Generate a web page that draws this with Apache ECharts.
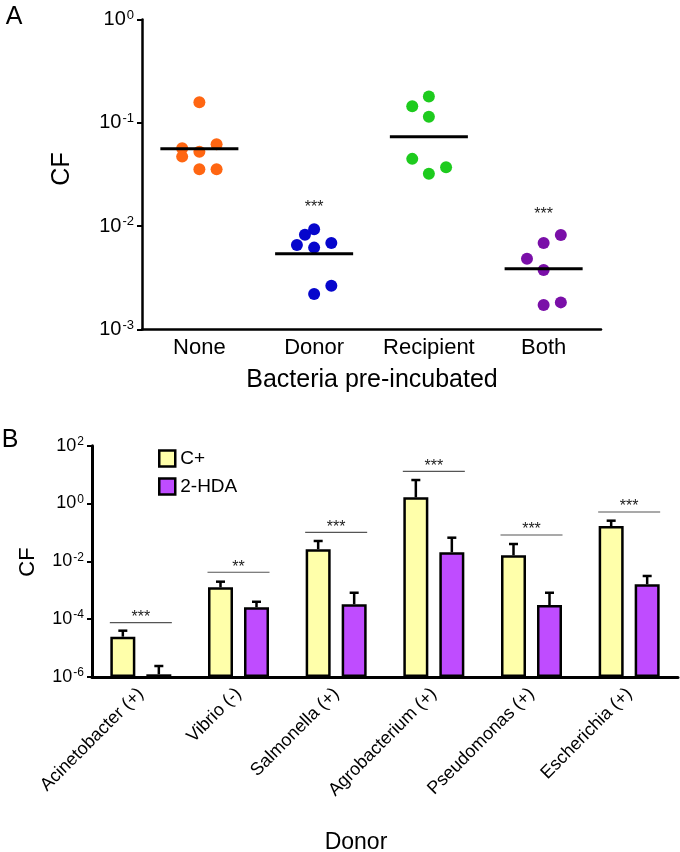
<!DOCTYPE html>
<html><head><meta charset="utf-8">
<script src="https://cdn.jsdelivr.net/npm/echarts@6/dist/echarts.min.js"></script>
<style>html,body{margin:0;padding:0;background:#fff}#c{width:680px;height:852px}</style>
</head><body><div id="c"></div>
<script>
// ---------- Panel A data ----------
const groupsA = ['None', 'Donor', 'Recipient', 'Both'];
const noneVals = [0.158, 0.0568, 0.0526, 0.0621, 0.0471, 0.0356, 0.0356];
const noneJitter = [0, -0.15, 0, 0.15, -0.15, 0, 0.15];
const donorVals = [0.00933, 0.00828, 0.00658, 0.00620, 0.00687, 0.00265, 0.00221];
const donorJitter = [0, -0.08, -0.15, 0, 0.15, 0.15, 0];
const recipientVals = [0.1795, 0.145, 0.1148, 0.0448, 0.0372, 0.0322];
const recipientJitter = [0, -0.145, 0, -0.145, 0.15, 0];
const bothVals = [0.00822, 0.00687, 0.00484, 0.00377, 0.00183, 0.00173];
const bothJitter = [0.15, 0, -0.145, 0, 0.15, 0];
const meansA = [0.0562, 0.00542, 0.0734, 0.00388];
const starsA = [[1, 0.0150, '***'], [3, 0.0128, '***']];

// ---------- Panel B data ----------
const donorsB = ['Acinetobacter (+)', 'Vibrio (-)', 'Salmonella (+)', 'Agrobacterium (+)', 'Pseudomonas (+)', 'Escherichia (+)'];
const cPlus = [2.48e-5, 1.27e-3, 0.0261, 1.64, 0.0162, 0.167];
const cPlusUpper = [4.0e-5, 1.98e-3, 0.0506, 6.5, 0.0398, 0.255];
const hda = [1.24e-6, 2.58e-4, 3.27e-4, 0.0206, 3.09e-4, 1.61e-3];
const hdaUpper = [2.4e-6, 4.0e-4, 8.2e-4, 0.0658, 8.2e-4, 3.12e-3];
const sigLevel = [7.55e-5, 4.19e-3, 0.101, 13.0, 0.0817, 0.509];
const sigLabels = ['***', '**', '***', '***', '***', '***'];

// ---------- styles ----------
const FONT = "'Liberation Sans', Arial, Helvetica, sans-serif";
const colA = ['#FF6612', '#0606CC', '#1ECB1E', '#7A0FA8'];
const BAR_W = 25, BAR_GAP = 11;

const expFmt = v => '{b|10}{s|' + Math.round(Math.log10(v)) + '}';

function scatterSeries(vals, jit, gi) {
  return {
    type: 'scatter', xAxisIndex: 1, yAxisIndex: 0,
    symbolSize: 12, itemStyle: { color: colA[gi], opacity: 1 },
    data: vals.map((v, i) => [gi + jit[i], v]), z: 3
  };
}

const chart = echarts.init(document.getElementById('c'), null, { renderer: 'canvas' });
const option = {
  animation: false,
  backgroundColor: '#fff',
  textStyle: { fontFamily: FONT },
  grid: [
    { left: 142, right: 79, top: 19.5, bottom: 522.5, containLabel: false, outerBoundsMode: 'none' },
    { left: 92, right: 2, top: 445.7, bottom: 175, containLabel: false, outerBoundsMode: 'none' }
  ],
  legend: {
    data: ['C+', '2-HDA'], orient: 'vertical', left: 158, top: 449,
    itemWidth: 16, itemHeight: 16, itemGap: 9, padding: 0, icon: 'rect',
    itemStyle: { borderColor: '#000', borderWidth: 2.5 },
    textStyle: { fontSize: 19, color: '#000', fontFamily: FONT }
  },
  xAxis: [
    { type: 'category', gridIndex: 0, data: groupsA,
      axisLine: { onZero: false, lineStyle: { color: '#000', width: 2.5 } },
      axisTick: { alignWithLabel: true, length: 5, interval: 0, lineStyle: { color: '#000', width: 2 } },
      axisLabel: { fontSize: 22, color: '#000', margin: 7, interval: 0, fontFamily: FONT },
      splitLine: { show: false } },
    { type: 'value', gridIndex: 0, min: -0.5, max: 3.5, show: false },
    { type: 'category', gridIndex: 1, data: donorsB,
      axisLine: { onZero: false, lineStyle: { color: '#000', width: 3 } },
      axisTick: { alignWithLabel: true, length: 5, interval: 0, lineStyle: { color: '#000', width: 2 } },
      axisLabel: { fontSize: 18, color: '#000', rotate: 45, margin: 14, interval: 0, fontFamily: FONT },
      splitLine: { show: false } }
  ],
  yAxis: [
    { type: 'log', gridIndex: 0, logBase: 10, min: 1e-3, max: 1, interval: 1,
      axisLine: { show: true, onZero: false, lineStyle: { color: '#000', width: 2.5 } },
      axisTick: { show: true, length: 5, lineStyle: { color: '#000', width: 2 } },
      splitLine: { show: false }, minorTick: { show: false },
      axisLabel: { margin: 8, formatter: expFmt, color: '#000',
        rich: { b: { fontSize: 20, fontFamily: FONT, color: '#000' },
                s: { fontSize: 13, fontFamily: FONT, color: '#000', padding: [0, 0, 9, 1] } } } },
    { type: 'log', gridIndex: 1, logBase: 10, min: 1e-6, max: 100, interval: 2, startValue: 1e-6,
      axisLine: { show: true, onZero: false, lineStyle: { color: '#000', width: 3 } },
      axisTick: { show: true, length: 5, lineStyle: { color: '#000', width: 2 } },
      splitLine: { show: false }, minorTick: { show: false },
      axisLabel: { margin: 8, formatter: expFmt, color: '#000',
        rich: { b: { fontSize: 18, fontFamily: FONT, color: '#000' },
                s: { fontSize: 12, fontFamily: FONT, color: '#000', padding: [0, 0, 8, 1] } } } }
  ],
  series: [
    scatterSeries(noneVals, noneJitter, 0),
    scatterSeries(donorVals, donorJitter, 1),
    scatterSeries(recipientVals, recipientJitter, 2),
    scatterSeries(bothVals, bothJitter, 3),
    { type: 'custom', xAxisIndex: 1, yAxisIndex: 0, z: 4,
      data: meansA.map((v, i) => [i, v]),
      renderItem(params, api) {
        const p = api.coord([api.value(0), api.value(1)]);
        const hw = api.size([1, 1])[0] * 0.34;
        return { type: 'line', shape: { x1: p[0] - hw, y1: p[1], x2: p[0] + hw, y2: p[1] },
                 style: { stroke: '#000', lineWidth: 3 } };
      } },
    { type: 'custom', xAxisIndex: 1, yAxisIndex: 0, z: 4,
      data: starsA.map(s => [s[0], s[1]]),
      renderItem(params, api) {
        const p = api.coord([api.value(0), api.value(1)]);
        return { type: 'text', x: p[0], y: p[1],
                 style: { text: starsA[params.dataIndex][2], align: 'center', verticalAlign: 'middle',
                          font: '16px ' + FONT, fill: '#222' } };
      } },
    { name: 'C+', type: 'bar', xAxisIndex: 2, yAxisIndex: 1, barWidth: BAR_W, barGap: (BAR_GAP / BAR_W * 100) + '%',
      itemStyle: { color: '#FFFFAA', borderColor: '#000', borderWidth: 2.5 }, data: cPlus, z: 2 },
    { name: '2-HDA', type: 'bar', xAxisIndex: 2, yAxisIndex: 1, barWidth: BAR_W,
      itemStyle: { color: '#BF4CFF', borderColor: '#000', borderWidth: 2.5 }, data: hda, z: 2 },
    { type: 'custom', xAxisIndex: 2, yAxisIndex: 1, z: 5,
      data: cPlus.map((v, i) => [i, v, cPlusUpper[i], -1]).concat(hda.map((v, i) => [i, v, hdaUpper[i], 1])),
      renderItem(params, api) {
        const off = api.value(3) * (BAR_W + BAR_GAP) / 2;
        const p0 = api.coord([api.value(0), api.value(1)]);
        const p1 = api.coord([api.value(0), api.value(2)]);
        const x = p0[0] + off;
        return { type: 'group', children: [
          { type: 'line', shape: { x1: x, y1: p0[1], x2: x, y2: p1[1] }, style: { stroke: '#000', lineWidth: 2.5 } },
          { type: 'line', shape: { x1: x - 4.5, y1: p1[1], x2: x + 4.5, y2: p1[1] }, style: { stroke: '#000', lineWidth: 2.5 } }
        ] };
      } },
    { type: 'custom', xAxisIndex: 2, yAxisIndex: 1, z: 5,
      data: sigLevel.map((v, i) => [i, v]),
      renderItem(params, api) {
        const p = api.coord([api.value(0), api.value(1)]);
        const hw = BAR_W + BAR_GAP / 2 + 0.5;
        return { type: 'group', children: [
          { type: 'line', shape: { x1: p[0] - hw, y1: p[1], x2: p[0] + hw, y2: p[1] }, style: { stroke: '#555', lineWidth: 1.2 } },
          { type: 'text', x: p[0], y: p[1] + 3,
            style: { text: sigLabels[params.dataIndex], align: 'center', verticalAlign: 'bottom', font: '16px ' + FONT, fill: '#222' } }
        ] };
      } }
  ],
  graphic: [
    { type: 'text', x: 14, y: 17, style: { text: 'A', font: '25px ' + FONT, fill: '#000', align: 'center', verticalAlign: 'middle' } },
    { type: 'text', x: 10, y: 440, style: { text: 'B', font: '25px ' + FONT, fill: '#000', align: 'center', verticalAlign: 'middle' } },
    { type: 'text', x: 62, y: 169, rotation: Math.PI / 2, style: { text: 'CF', font: '25px ' + FONT, fill: '#000', align: 'center', verticalAlign: 'middle' } },
    { type: 'text', x: 28, y: 562, rotation: Math.PI / 2, style: { text: 'CF', font: '22px ' + FONT, fill: '#000', align: 'center', verticalAlign: 'middle' } },
    { type: 'text', x: 372, y: 380, style: { text: 'Bacteria pre-incubated', font: '25px ' + FONT, fill: '#000', align: 'center', verticalAlign: 'middle' } },
    { type: 'text', x: 356, y: 843, style: { text: 'Donor', font: '23px ' + FONT, fill: '#000', align: 'center', verticalAlign: 'middle' } }
  ]
};
chart.setOption(option);
</script>
</body></html>
